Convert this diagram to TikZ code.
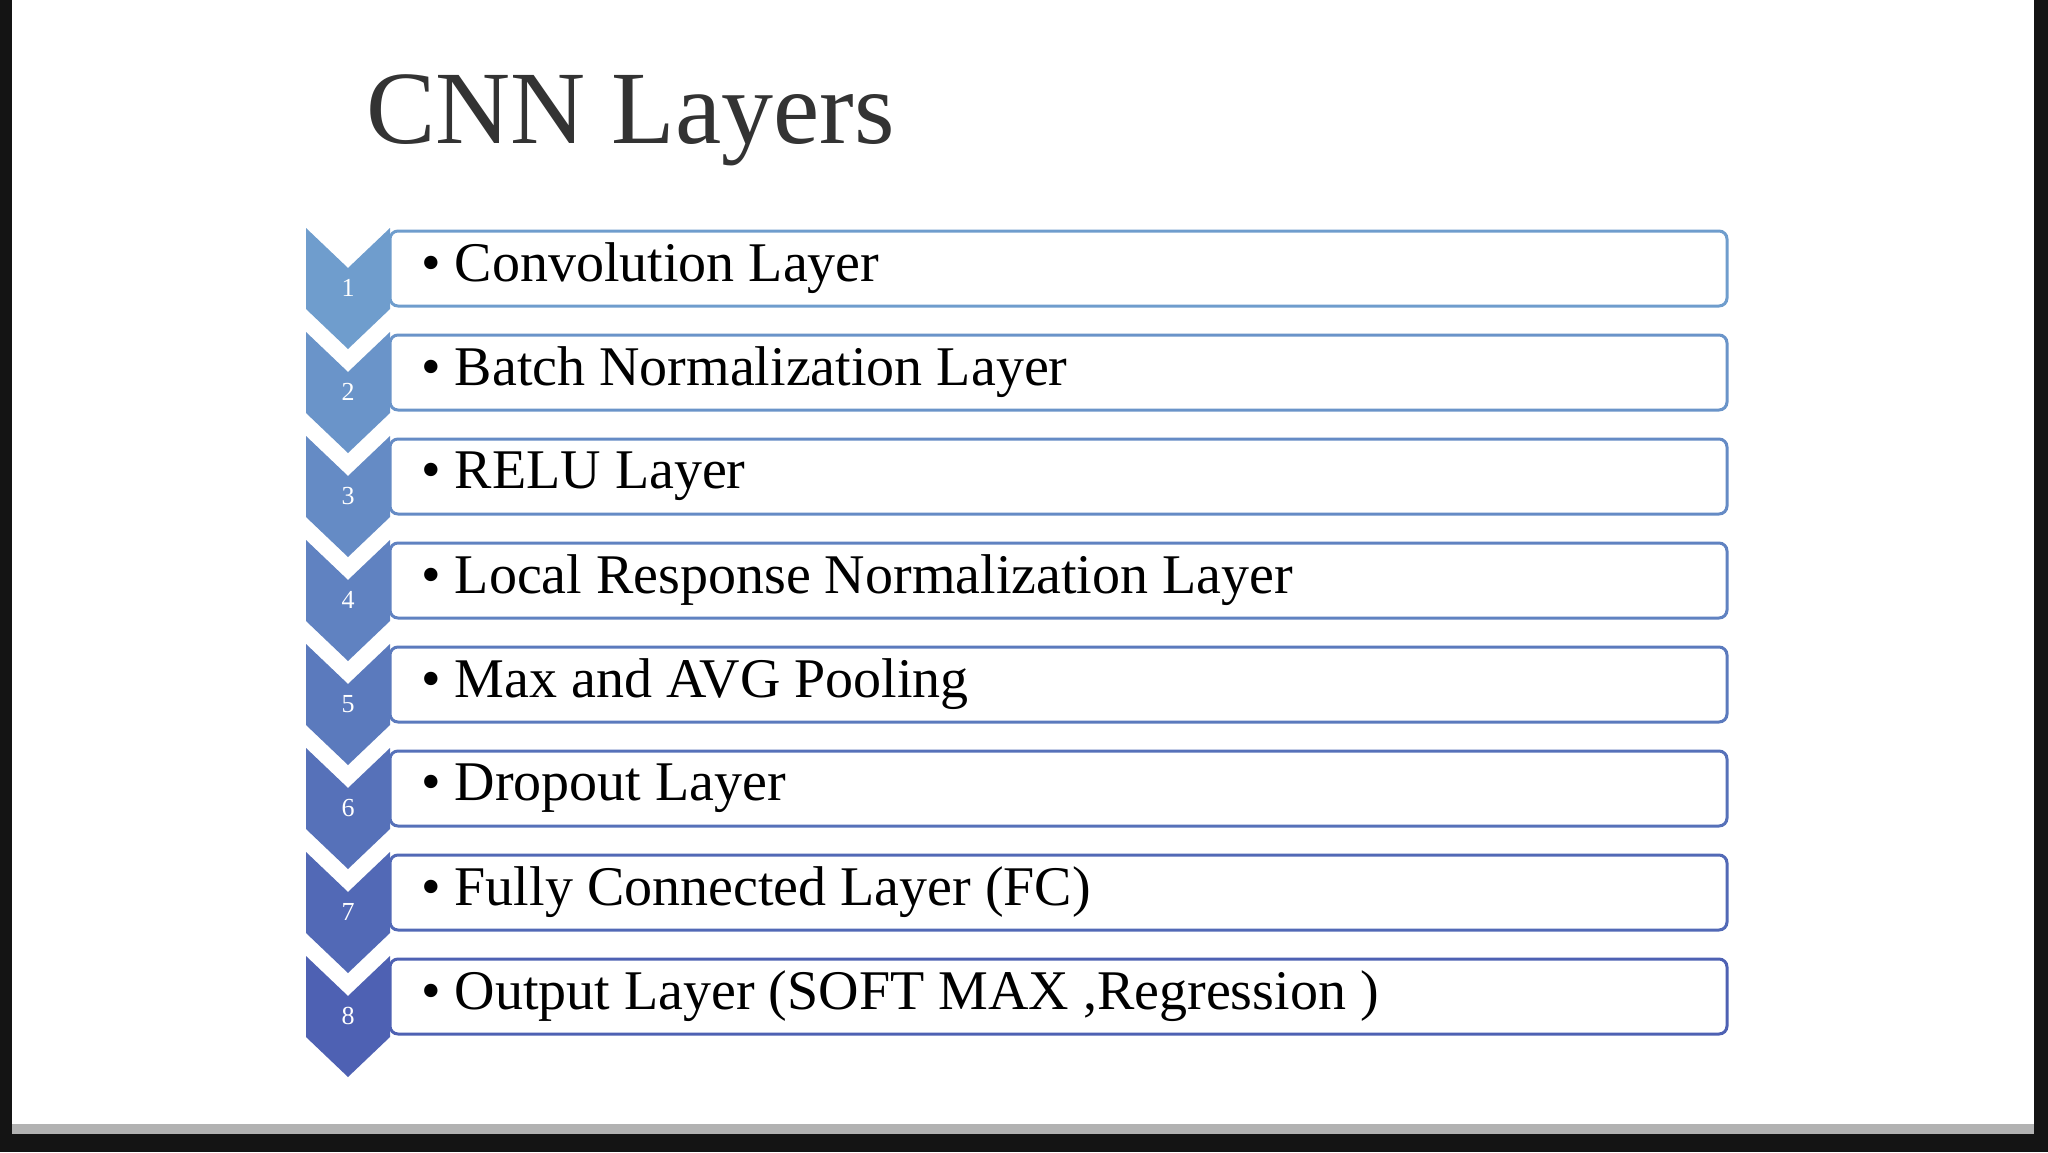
\documentclass[tikz,border=0pt]{standalone}
\usepackage{fontspec}
\setmainfont{Liberation Serif}
\begin{document}
\begin{tikzpicture}[x=1pt,y=-1pt,
  itembox/.style={draw=#1,line width=3pt,rounded corners=8pt,fill=white},
  itemtext/.style={anchor=west,font=\fontsize{56}{60}\selectfont,text=black,inner sep=0pt},
  numtext/.style={font=\fontsize{26}{28}\selectfont,text=white,inner sep=0pt}]
\useasboundingbox (0,0) rectangle (2048,1152);
\fill[black!92] (0,0) rectangle (2048,1152);
\fill[gray!60] (12,1100) rectangle (2034,1134);
\fill[white] (12,0) rectangle (2034,1124);
\node[anchor=base west,font=\fontsize{104}{110}\selectfont,text=black!80,inner sep=0pt] (title) at (366,143) {CNN Layers};
\foreach \i/\t/\c in {
 1/Convolution Layer/6F9DCD,
 2/Batch Normalization Layer/6A94C9,
 3/RELU Layer/658BC5,
 4/Local Response Normalization Layer/6082C1,
 5/Max and AVG Pooling/5B7ABD,
 6/Dropout Layer/5671B9,
 7/Fully Connected Layer (FC)/5269B6,
 8/{Output Layer (SOFT MAX ,Regression )}/4E61B3}{
  \definecolor{cc}{HTML}{\c}
  \pgfmathsetmacro{\top}{228+104*(\i-1)}
  \fill[cc] (306,\top) -- (348,\top+40) -- (390,\top) -- (390,\top+81) -- (348,\top+121) -- (306,\top+81) -- cycle;
  \node[numtext] (n\i) at (348,\top+60) {\i};
  \draw[itembox=cc] (390,\top+3) rectangle (1727,\top+78);
  \node[itemtext] (t\i) at (421,\top+40) {\textbullet\hspace{0.25em}\t};
}
\end{tikzpicture}
\end{document}
